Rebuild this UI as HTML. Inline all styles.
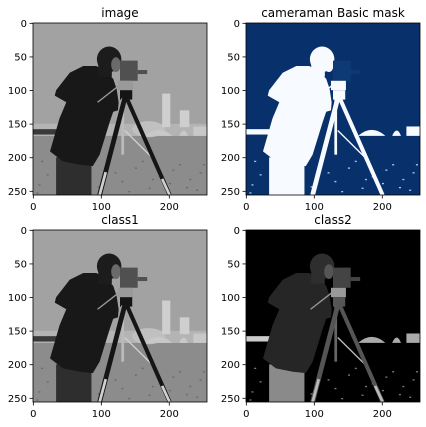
<!DOCTYPE html>
<html><head><meta charset="utf-8">
<style>
html,body{margin:0;padding:0;background:#fff;}
svg{display:block;font-family:"DejaVu Sans","Liberation Sans",sans-serif;}
</style></head>
<body>
<svg id="fig" width="426" height="427" viewBox="0 0 426 427"></svg>
<script>
const tickValues=[0,50,100,150,200,250];
const xTickValues=[0,100,200];
const panels=[
 {name:'image',title:'image',x:33,y:23,pal:'gray'},
 {name:'mask',title:'cameraman Basic mask',x:246,y:23,pal:'mask'},
 {name:'class1',title:'class1',x:33,y:230,pal:'gray'},
 {name:'class2',title:'class2',x:246,y:230,pal:'class2'}
];
const W=174,H=172;
const NS='http://www.w3.org/2000/svg';
const fig=document.getElementById('fig');
function el(tag,attrs,parent){const e=document.createElementNS(NS,tag);for(const k in attrs)e.setAttribute(k,attrs[k]);parent.appendChild(e);return e;}
const P={
 gray:{sky:'#a2a2a2',ground:'#8c8c8c',band:'#b4b4b4',dark:'#2a2a2a',coat:'#181818',legs:'#2e2e2e',head:'#1c1c1c',face:'#6a6a6a',cam:'#505050',camL:'#9a9a9a',tri:'#151515',triL:'#d0d0d0',pole:'#bbbbbb',tower:'#cfcfcf',dome:'#c0c0c0',strip:'#3a3a3a',patch:'#c8c8c8',noise:'#6a6a6a'},
 mask:{sky:'#08306b',ground:'#08306b',band:'#08306b',dark:'#f7fbff',coat:'#f7fbff',legs:'#f7fbff',head:'#f7fbff',face:'#f7fbff',cam:'#0d3a75',camL:'#f7fbff',tri:'#f7fbff',triL:'#f7fbff',pole:'#f7fbff',tower:'#08306b',dome:'#08306b',strip:'#f7fbff',patch:'#f7fbff',noise:'#9ecae1'},
 class2:{sky:'#000',ground:'#000',band:'#000',dark:'#2a2a2a',coat:'#262626',legs:'#8a8a8a',head:'#2e2e2e',face:'#555',cam:'#444',camL:'#999',tri:'#555',triL:'#bbb',pole:'#666',tower:'#000',dome:'#000',strip:'#ccc',patch:'#aaa',noise:'#777'}
};
function scene(g,c){
 el('rect',{x:0,y:0,width:256,height:256,fill:c.sky},g);
 el('rect',{x:0,y:168,width:256,height:88,fill:c.ground},g);
 el('rect',{x:0,y:150,width:256,height:18,fill:c.band},g);
 el('ellipse',{cx:170,cy:158,rx:24,ry:12,fill:c.dome},g);
 el('rect',{x:190,y:105,width:12,height:50,fill:c.tower},g);
 el('rect',{x:216,y:130,width:14,height:25,fill:c.tower},g);
 el('rect',{x:0,y:158,width:40,height:8,fill:c.strip},g);
 el('path',{d:'M165 168 Q185 150 205 168 Z',fill:c.patch},g);
 el('path',{d:'M215 168 Q222 152 228 168 Z',fill:c.patch},g);
 el('rect',{x:236,y:154,width:20,height:14,fill:c.patch},g);
 const nx=[8,20,45,110,130,150,170,185,200,215,230,245,12,60,140,160,205,240,95,120,175,225,250,5];
 const ny=[240,225,250,200,235,215,245,228,238,210,232,222,205,245,250,205,218,248,243,222,232,244,210,252];
 for(let i=0;i<nx.length;i++)el('rect',{x:nx[i],y:ny[i],width:3,height:2,fill:c.noise},g);
 el('rect',{x:34,y:200,width:52,height:56,fill:c.legs},g);
 el('polygon',{points:'93,64 74,64 54,74 34,100 32,108 49,118 39,142 25,191 44,206 69,211 88,213 98,196 113,147 118,132 125,130 126,118 123,98 118,83 113,78 103,69',fill:c.coat},g);
 el('ellipse',{cx:112,cy:54,rx:18,ry:19,fill:c.head},g);
 el('rect',{x:96,y:60,width:20,height:20,fill:c.head},g);
 el('ellipse',{cx:122,cy:62,rx:7,ry:11,fill:c.face},g);
 el('line',{x1:95,y1:118,x2:128,y2:92,stroke:c.camL,'stroke-width':2},g);
 el('rect',{x:128,y:56,width:26,height:30,fill:c.cam},g);
 el('rect',{x:154,y:70,width:14,height:6,fill:c.cam},g);
 el('rect',{x:125,y:86,width:22,height:14,fill:c.camL},g);
 el('rect',{x:128,y:100,width:18,height:14,fill:c.tri},g);
 el('line',{x1:132,y1:196,x2:132,y2:112,stroke:c.pole,'stroke-width':4},g);
 el('line',{x1:135,y1:160,x2:180,y2:205,stroke:c.triL,'stroke-width':2},g);
 el('line',{x1:135,y1:112,x2:98,y2:256,stroke:c.tri,'stroke-width':7},g);
 el('line',{x1:107,y1:222,x2:98,y2:256,stroke:c.triL,'stroke-width':4},g);
 el('line',{x1:138,y1:112,x2:201,y2:256,stroke:c.tri,'stroke-width':6},g);
 el('line',{x1:190,y1:232,x2:201,y2:256,stroke:c.triL,'stroke-width':4},g);
}
panels.forEach(p=>{
 const ax=el('g',{},fig);
 
 
 const t=el('text',{x:p.x+W/2,y:p.y-6,'text-anchor':'middle','font-size':12,fill:'#000'},ax);
 t.textContent=p.title;
 
 
 const img=el('g',{transform:`translate(${p.x},${p.y}) scale(${W/256},${H/256})`},ax);
 
 
 scene(img,P[p.pal]);
 el('rect',{x:p.x,y:p.y,width:W,height:H,fill:'none',stroke:'#000','stroke-width':0.8},ax);
 tickValues.forEach(v=>{
  const yy=p.y+(v+0.5)*H/256;
  el('line',{x1:p.x-3.5,y1:yy,x2:p.x,y2:yy,stroke:'#000','stroke-width':0.8},ax);
  const tl=el('text',{x:p.x-6,y:yy+3.5,'text-anchor':'end','font-size':10,fill:'#000'},ax);
  tl.textContent=v;
  
  
 });
 xTickValues.forEach(v=>{
  const xx=p.x+(v+0.5)*W/256;
  el('line',{x1:xx,y1:p.y+H,x2:xx,y2:p.y+H+3.5,stroke:'#000','stroke-width':0.8},ax);
  const tl=el('text',{x:xx,y:p.y+H+15,'text-anchor':'middle','font-size':10,fill:'#000'},ax);
  tl.textContent=v;
  
  
 });
});
</script>
</body></html>
